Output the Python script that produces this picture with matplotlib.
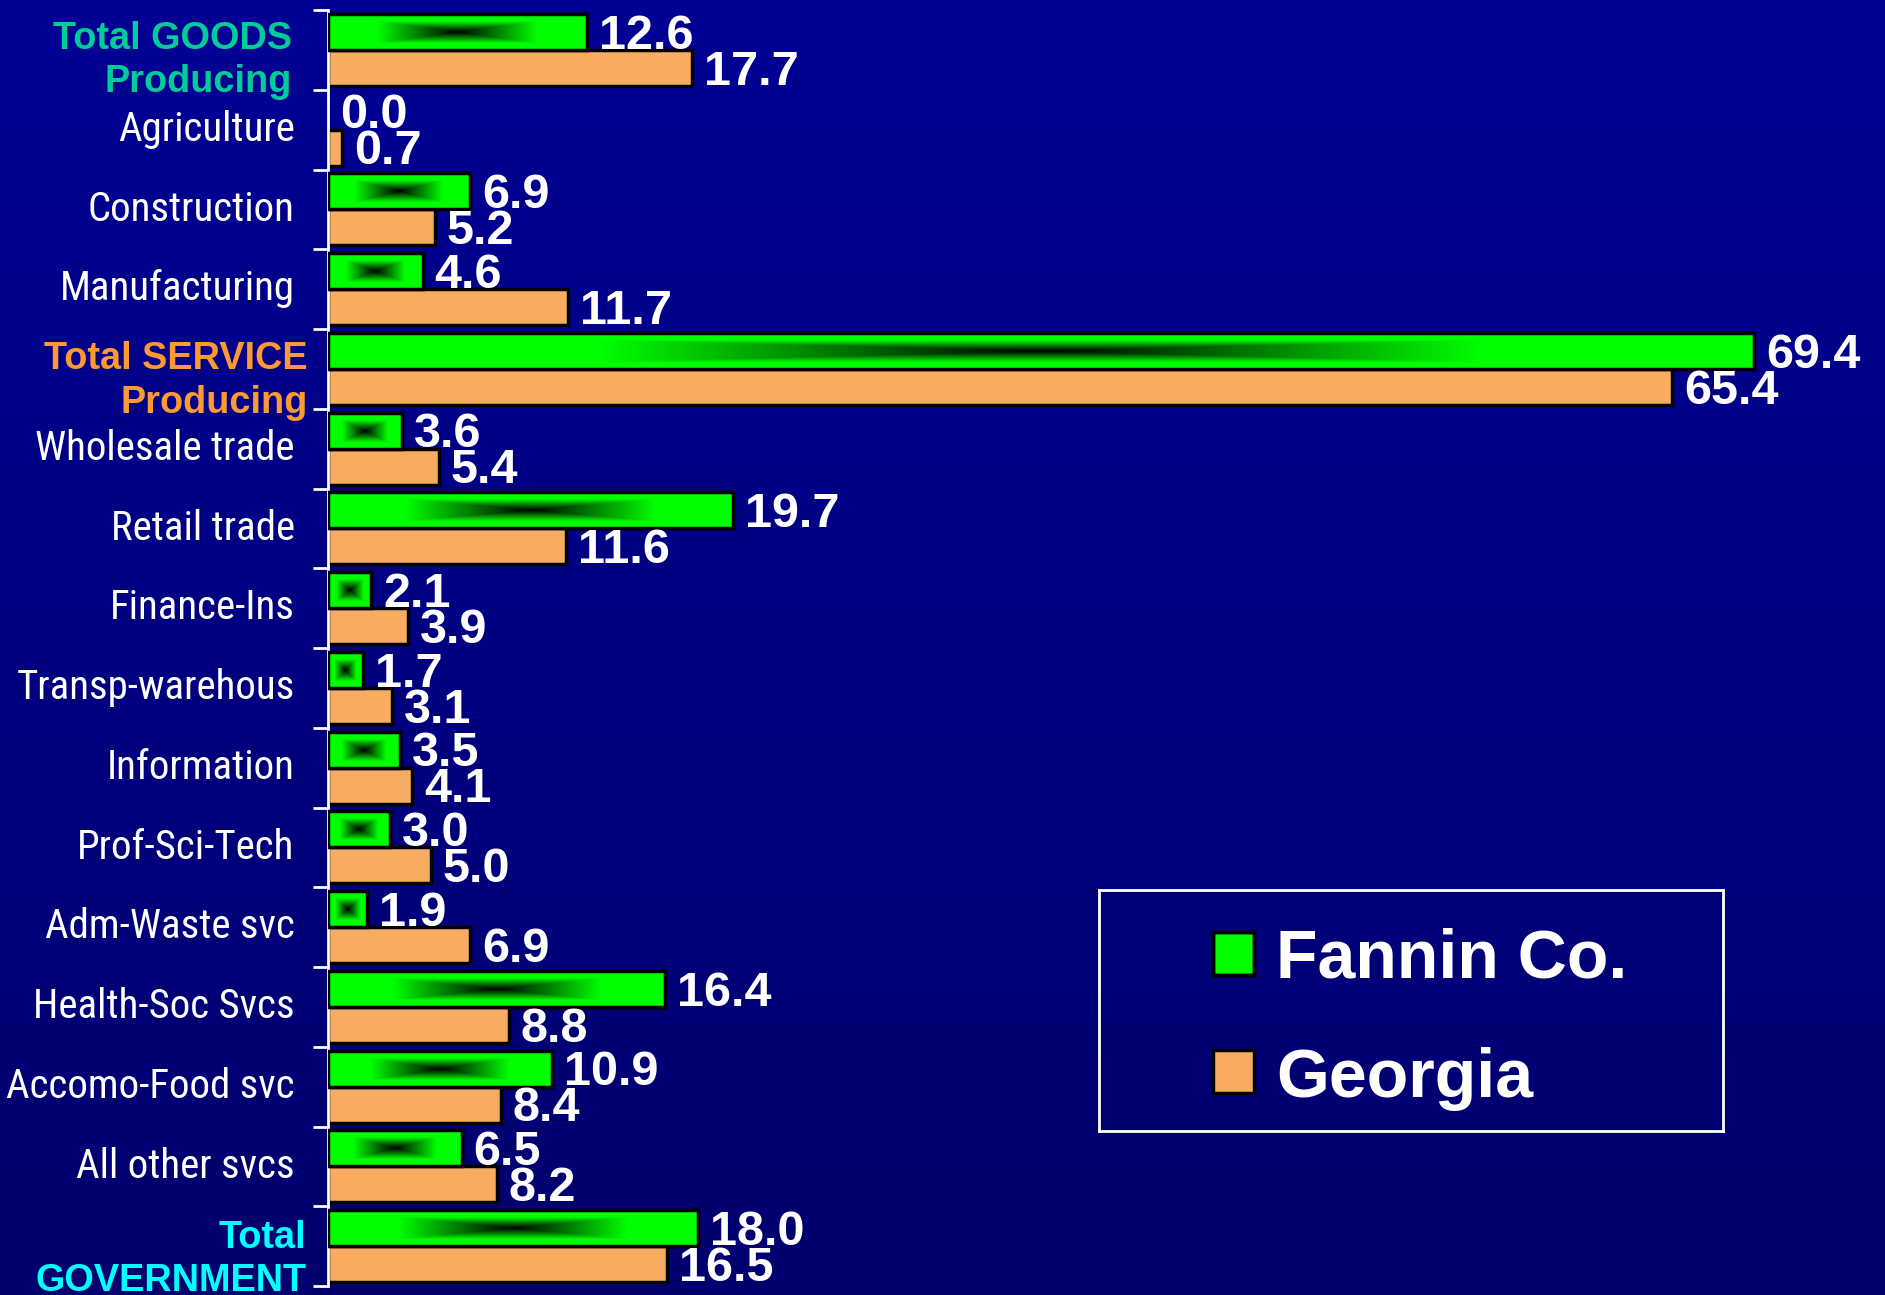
import numpy as np
import matplotlib
matplotlib.use("Agg")
import matplotlib.pyplot as plt
import matplotlib.font_manager as fm
from matplotlib.transforms import offset_copy
from matplotlib.patches import Rectangle

# ---------------- data ----------------
categories = ["Total GOODS\nProducing", "Agriculture", "Construction", "Manufacturing",
              "Total SERVICE\nProducing", "Wholesale trade", "Retail trade", "Finance-Ins",
              "Transp-warehous", "Information", "Prof-Sci-Tech", "Adm-Waste svc",
              "Health-Soc Svcs", "Accomo-Food svc", "All other svcs", "Total\nGOVERNMENT"]
fannin = [12.6, 0.0, 6.9, 4.6, 69.4, 3.6, 19.7, 2.1, 1.7, 3.5, 3.0, 1.9, 16.4, 10.9, 6.5, 18.0]
georgia = [17.7, 0.7, 5.2, 11.7, 65.4, 5.4, 11.6, 3.9, 3.1, 4.1, 5.0, 6.9, 8.8, 8.4, 8.2, 16.5]
series_names = ["Fannin Co.", "Georgia"]
special_colors = {0: "#00CC99", 4: "#FF9933", 15: "#00FFFF"}

# ---------------- find a narrow font if one exists ----------------
def find_narrow():
    prefs = ["Liberation Sans Narrow", "Roboto Condensed", "Open Sans Condensed",
             "DejaVu Sans Condensed", "Noto Sans Condensed"]
    entries = fm.fontManager.ttflist
    def is_regular(e):
        w = e.weight
        try:
            w = int(w)
        except Exception:
            w = 400 if str(w).lower() in ("normal", "regular", "book") else 700
        return w <= 450 and e.style == "normal"
    for p in prefs:
        for e in entries:
            if e.name == p and is_regular(e):
                return fm.FontProperties(fname=e.fname)
    for e in entries:
        st = str(e.stretch).lower()
        if (("condensed" in st or "narrow" in st) or ("Condensed" in e.name or "Narrow" in e.name)) \
                and is_regular(e) and "Mono" not in e.name and "Serif" not in e.name:
            return fm.FontProperties(fname=e.fname)
    return fm.FontProperties(family=["Liberation Sans", "DejaVu Sans"])

NARROW_FP = find_narrow()
BOLD = ["Liberation Sans", "DejaVu Sans"]

W, H = 1885, 1295
fig = plt.figure(figsize=(W / 100, H / 100), dpi=100)

# background gradient
bg = fig.add_axes([0, 0, 1, 1], zorder=-10)
grad = np.linspace(0, 1, 256)[:, None]
top = np.array([0, 0, 148]) / 255
bot = np.array([0, 0, 110]) / 255
img = top[None, None, :] * (1 - grad[..., None]) + bot[None, None, :] * grad[..., None]
img = np.repeat(img, 2, axis=1)
bg.imshow(img, aspect="auto", extent=(0, 1, 0, 1), origin="upper")
bg.set_axis_off()

axis_x = 328
ax_top, ax_bot = 10, 1286
ax = fig.add_axes([axis_x / W, 1 - ax_bot / H, (W - axis_x) / W, (ax_bot - ax_top) / H])
ax.patch.set_alpha(0)
n = len(categories)
px_per_unit = 20.55
ax.set_xlim(0, (W - axis_x) / px_per_unit)
ax.set_ylim(n - 0.5, -0.5)

y = np.arange(n)
bh = 0.45
GREEN = "#00FF00"
ORANGE = "#F8AC62"

# green gradient image (rectangular gradient, dark centre)
nx, ny = 300, 60
u = np.linspace(-1, 1, nx)[None, :]
v = np.linspace(-1, 1, ny)[:, None]
t = np.maximum(np.abs(u) * np.ones_like(v), np.abs(v) * np.ones_like(u))
f = np.clip(t / 0.62, 0, 1)
gimg = np.zeros((ny, nx, 3))
gimg[..., 1] = f

gbars = ax.barh(y - bh / 2, fannin, height=bh, color=GREEN, edgecolor="black", linewidth=2.5, zorder=2)
obars = ax.barh(y + bh / 2, georgia, height=bh, color=ORANGE, edgecolor="black", linewidth=2.5, zorder=2)

for bar, val, yc in zip(gbars, fannin, y - bh / 2):
    if val <= 0:
        bar.set_visible(False)
        continue
    im = ax.imshow(gimg, extent=(0, val, yc + bh / 2, yc - bh / 2), aspect="auto",
                   interpolation="bilinear", zorder=2.5)
    im.set_clip_path(bar)
    ax.add_patch(Rectangle((0, yc - bh / 2), val, bh, fill=False, edgecolor="black",
                           linewidth=2.5, zorder=3))

ax.set_xlim(0, (W - axis_x) / px_per_unit)
ax.set_ylim(n - 0.5, -0.5)

# value labels
gap = 12 / px_per_unit
for vals, offs in ((fannin, -bh / 2), (georgia, bh / 2)):
    for i, val in enumerate(vals):
        ax.text(val + gap, i + offs + 0.21, f"{val:.1f}", color="white", fontsize=35,
                fontweight="bold", family=BOLD, ha="left", va="baseline", zorder=5)

# axis styling
for s in ["top", "right", "bottom"]:
    ax.spines[s].set_visible(False)
ax.spines["left"].set_color("white")
ax.spines["left"].set_linewidth(2)
ax.set_xticks([])
ax.set_yticks(np.arange(-0.5, n, 1.0))
ax.set_yticklabels([])
ax.tick_params(axis="y", length=11, width=2, color="white", direction="out")

# size the narrow label font so that the widest label matches the reference width
renderer = fig.canvas.get_renderer()
probe = fig.text(0, 0, "Accomo-Food svc", fontproperties=NARROW_FP, fontsize=30)
wpx = probe.get_window_extent(renderer).width
probe.remove()
label_size = 30 * 288.0 / wpx
label_size = min(label_size, 33)

# category labels
ytrans = ax.get_yaxis_transform()
for i, cat in enumerate(categories):
    if i in special_colors:
        lines = cat.split("\n")
        dx = {0: 26, 4: 14.5, 15: 15.5}[i]
        offs = {0: (-0.01, 0.53), 4: (0.0, 0.553), 15: (0.02, 0.565)}[i]
        tr = offset_copy(ytrans, fig=fig, x=-dx, y=0, units="points")
        for line, o in zip(lines, offs):
            ax.text(0, i + o, line, transform=tr, ha="right", va="baseline",
                    color=special_colors[i], fontsize=27.3, fontweight="bold", family=BOLD,
                    clip_on=False)
    else:
        tr = offset_copy(ytrans, fig=fig, x=-24, y=0, units="points")
        ax.text(0, i + 0.14, cat, transform=tr, ha="right", va="baseline", color="white",
                fontproperties=NARROW_FP, fontsize=label_size, clip_on=False)

# legend (manual box)
lx0, lx1, ly0, ly1 = 1099, 1723, 890, 1131
lg = fig.add_axes([lx0 / W, 1 - ly1 / H, (lx1 - lx0) / W, (ly1 - ly0) / H], zorder=6)
lg.set_xlim(0, lx1 - lx0)
lg.set_ylim(ly1 - ly0, 0)
lg.patch.set_alpha(0)
lg.set_xticks([])
lg.set_yticks([])
for s in lg.spines.values():
    s.set_color("white")
    s.set_linewidth(2)
sw = Rectangle((114, 42), 41, 43, facecolor=GREEN, edgecolor="black", linewidth=2.5)
lg.add_patch(sw)
u2 = np.linspace(-1, 1, 60)[None, :]
v2 = np.linspace(-1, 1, 60)[:, None]
t2 = np.maximum(np.abs(u2) * np.ones_like(v2), np.abs(v2) * np.ones_like(u2))
simg = np.zeros((60, 60, 3))
simg[..., 1] = np.clip(t2 / 0.75, 0, 1)
sim = lg.imshow(simg, extent=(114, 155, 85, 42), aspect="auto", interpolation="bilinear")
sim.set_clip_path(sw)
lg.add_patch(Rectangle((114, 42), 41, 43, fill=False, edgecolor="black", linewidth=2.5))
lg.add_patch(Rectangle((114, 160), 41, 43, facecolor=ORANGE, edgecolor="black", linewidth=2.5))
lg.set_xlim(0, lx1 - lx0)
lg.set_ylim(ly1 - ly0, 0)
lg.text(177, 88, series_names[0], color="white", fontsize=49, fontweight="bold", family=BOLD,
        ha="left", va="baseline")
lg.text(177, 207, series_names[1], color="white", fontsize=49, fontweight="bold", family=BOLD,
        ha="left", va="baseline")

fig.savefig("out.png", dpi=100, facecolor="#000080")
